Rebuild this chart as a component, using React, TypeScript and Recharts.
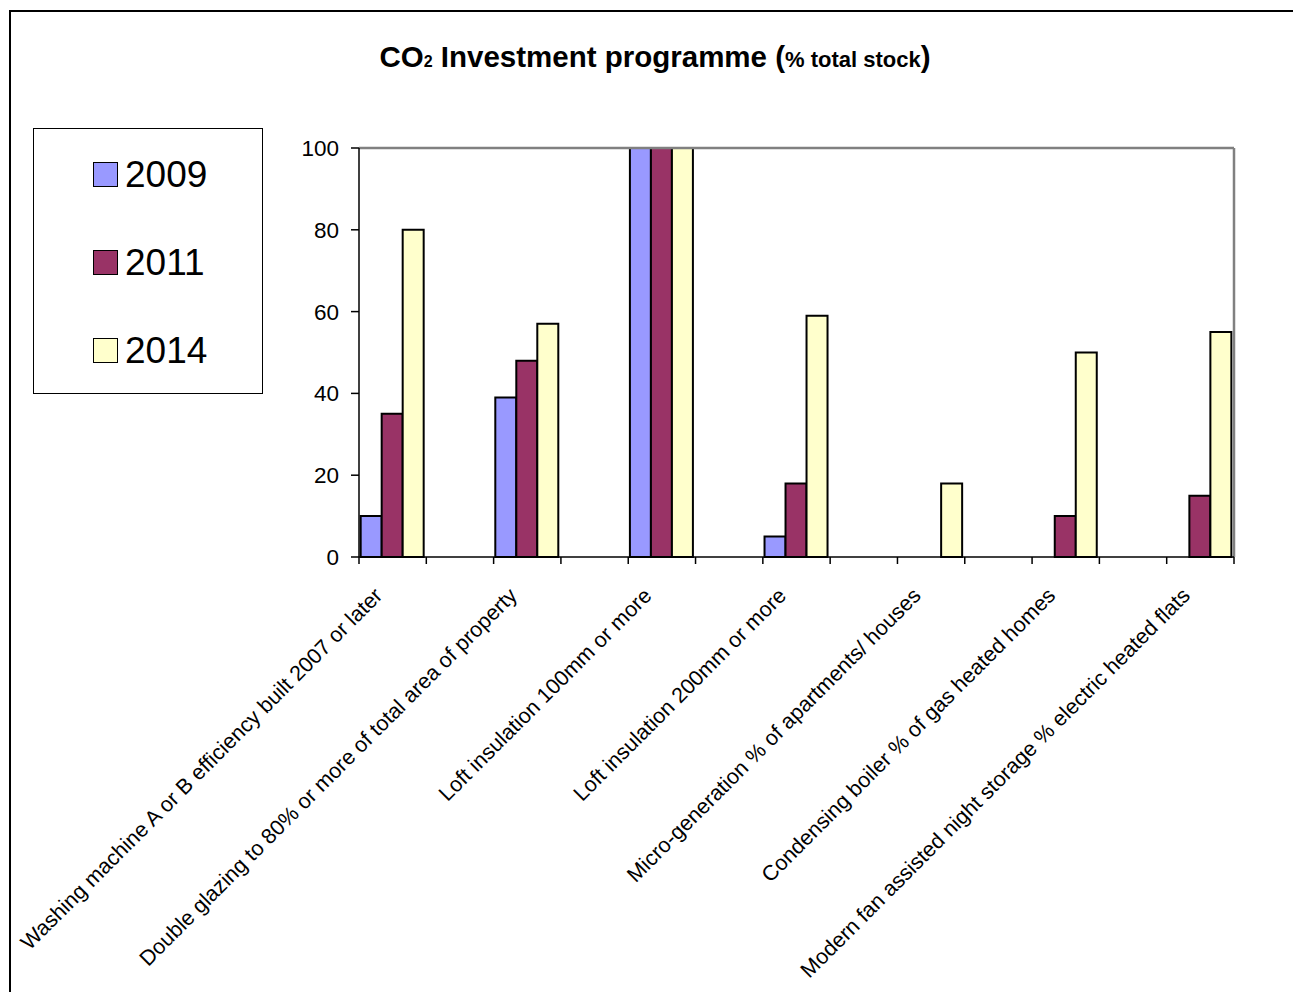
import { BarChart, Bar, XAxis, YAxis, Legend, ReferenceLine } from 'recharts';

/* ── Data ───────────────────────────────────────────────────────────────── */

// blank slots sit between the real categories, as in the original sheet
const CATEGORIES = [
  'Washing machine A or B efficiency built 2007 or later',
  '',
  'Double glazing to 80% or more of total area of property',
  '',
  'Loft insulation 100mm or more',
  '',
  'Loft insulation 200mm or more',
  '',
  'Micro-generation % of apartments/ houses',
  '',
  'Condensing boiler % of gas heated homes',
  '',
  'Modern fan assisted night storage % electric heated flats',
];

const Y2009 = [10, null, 39, null, 100, null, 5, null, null, null, null, null, null];
const Y2011 = [35, null, 48, null, 100, null, 18, null, null, null, 10, null, 15];
const Y2014 = [80, null, 57, null, 100, null, 59, null, 18, null, 50, null, 55];

const Y_TICKS = [0, 20, 40, 60, 80, 100];

const SERIES = [
  { key: 'y2009', name: '2009', color: '#9999FF' },
  { key: 'y2011', name: '2011', color: '#993366' },
  { key: 'y2014', name: '2014', color: '#FFFFCC' },
];

const data = CATEGORIES.map((name, i) => ({
  slot: i,
  name,
  y2009: Y2009[i],
  y2011: Y2011[i],
  y2014: Y2014[i],
}));

/* ── Layout ─────────────────────────────────────────────────────────────── */

const W = 1293;
const H = 992;
const M = { top: 148, right: 59, left: 299, bottom: 0 };
const Y_AXIS_W = 60;
const X_AXIS_H = H - 557;
const PLOT_W = W - M.left - Y_AXIS_W - M.right;
const BAND = PLOT_W / CATEGORIES.length;
const FONT = "'Liberation Sans', Arial, sans-serif";

/* ── Pieces ─────────────────────────────────────────────────────────────── */

function CategoryTick({ x, y, payload, index }: any) {
  const half = BAND / 2;
  const label = CATEGORIES[payload.value];
  const ax = x - 9;
  const ay = y + 40;
  return (
    <g>
      {index === 0 && <line x1={x - half} x2={x - half} y1={y} y2={y + 7} stroke="#000" strokeWidth={1.5} />}
      <line x1={x + half} x2={x + half} y1={y} y2={y + 7} stroke="#000" strokeWidth={1.5} />
      {label && (
        <text
          x={ax}
          y={ay}
          transform={`rotate(-45, ${ax}, ${ay})`}
          textAnchor="end"
          fontSize={21.5}
          fontFamily={FONT}
          fill="#000"
        >
          {label}
        </text>
      )}
    </g>
  );
}

function LegendBox() {
  return (
    <div
      style={{
        width: 230,
        height: 266,
        boxSizing: 'border-box',
        border: '1px solid #000',
        background: '#fff',
        paddingTop: 25,
        fontFamily: FONT,
      }}
    >
      {SERIES.map(s => (
        <div key={s.key} style={{ display: 'flex', alignItems: 'center', height: 40, marginBottom: 48, paddingLeft: 59 }}>
          <div style={{ width: 23, height: 23, background: s.color, border: '1.5px solid #000', marginRight: 7 }} />
          <span style={{ fontSize: 37, color: '#000', lineHeight: 1 }}>{s.name}</span>
        </div>
      ))}
    </div>
  );
}

/* ── Page ───────────────────────────────────────────────────────────────── */

export default function App() {
  return (
    <div style={{ position: 'absolute', left: 0, top: 0, width: W, height: H, overflow: 'hidden', background: '#fff', fontFamily: FONT }}>
      {/* outer chart frame, runs off the right and bottom edges */}
      <div style={{ position: 'absolute', left: 9, top: 10, width: 1400, height: 1100, borderLeft: '2px solid #000', borderTop: '2px solid #000' }} />

      {/* Title */}
      <div
        style={{
          position: 'absolute',
          left: 0,
          top: 39,
          width: 1310,
          textAlign: 'center',
          fontWeight: 'bold',
          fontSize: 29.5,
          lineHeight: '36px',
          color: '#000',
          whiteSpace: 'nowrap',
        }}
      >
        CO<span style={{ fontSize: 16 }}>2</span> Investment programme (<span style={{ fontSize: 22 }}>% total stock</span>)
      </div>

      <div style={{ position: 'absolute', left: 0, top: 0 }}>
        <BarChart width={W} height={H} data={data} margin={M} barCategoryGap="2.5%" barGap={0}>
          <XAxis
            dataKey="slot"
            type="category"
            height={X_AXIS_H}
            interval={0}
            tickLine={false}
            tickSize={0}
            tickMargin={0}
            axisLine={{ stroke: '#000', strokeWidth: 1.5 }}
            tick={<CategoryTick />}
          />
          <YAxis
            width={Y_AXIS_W}
            domain={[0, 100]}
            ticks={Y_TICKS}
            interval={0}
            tickSize={8}
            tickMargin={12}
            axisLine={{ stroke: '#000', strokeWidth: 1.5 }}
            tickLine={{ stroke: '#000', strokeWidth: 1.5 }}
            tick={{ fill: '#000', fontSize: 22.5, fontFamily: FONT }}
          />
          {/* grey plot-area frame: top and right */}
          <ReferenceLine y={100} stroke="#808080" strokeWidth={2.5} />
          <ReferenceLine x={CATEGORIES.length - 1} position="end" stroke="#808080" strokeWidth={2.5} />
          <Legend
            layout="vertical"
            align="center"
            verticalAlign="middle"
            wrapperStyle={{ left: 33, top: 128, width: 230, height: 266 }}
            content={() => <LegendBox />}
          />
          {SERIES.map(s => (
            <Bar
              key={s.key}
              dataKey={s.key}
              name={s.name}
              fill={s.color}
              stroke="#000"
              strokeWidth={2}
              isAnimationActive={false}
            />
          ))}
        </BarChart>
      </div>
    </div>
  );
}
